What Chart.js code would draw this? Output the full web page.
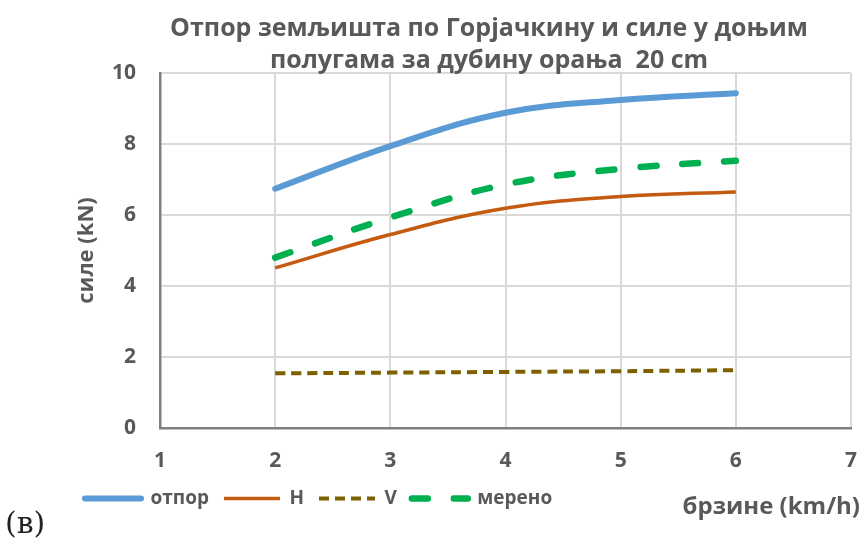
<!DOCTYPE html>
<html>
<head>
<meta charset="utf-8">
<script src="https://cdn.jsdelivr.net/npm/chart.js@4.4.1/dist/chart.umd.min.js"></script>
<style>
  html, body { margin: 0; padding: 0; background: #fff; }
</style>
</head>
<body>
<canvas id="lineChart" width="862" height="546"></canvas>
<script>
// брзине (km/h)
const speeds = [2, 3, 4, 5, 6];
// силе (kN)
const otpor = [6.74, 7.94, 8.88, 9.24, 9.43];
const forceH = [4.51, 5.45, 6.19, 6.52, 6.65];
const forceV = [1.54, 1.56, 1.58, 1.60, 1.63];
const mereno = [4.80, 5.93, 6.86, 7.30, 7.53];

const xTicks = [1, 2, 3, 4, 5, 6, 7];
const yTicks = [0, 2, 4, 6, 8, 10];

const titleLines = ['Отпор земљишта по Горјачкину и силе у доњим', 'полугама за дубину орања  20 cm'];
const xTitle = 'брзине (km/h)';
const yTitle = 'силе (kN)';
const panelLabel = '(в)';

const grayText = '#595959';
const fontName = '"Open Sans", "Noto Sans", sans-serif';

const toPoints = ys => speeds.map((x, i) => ({ x: x, y: ys[i] }));

// title, x-axis label next to the legend and the panel letter
const extraText = {
    id: 'extraText',
    afterDraw(chart) {
        const ctx = chart.ctx;
        ctx.save();
        ctx.fillStyle = grayText;
        ctx.textAlign = 'center';
        ctx.textBaseline = 'alphabetic';
        ctx.font = 'bold 25px ' + fontName;
        ctx.fillText(titleLines[0], 489, 36);
        ctx.fillText(titleLines[1], 489, 68);

        ctx.textAlign = 'right';
        ctx.font = 'bold 24px ' + fontName;
        ctx.fillText(xTitle, 860, 514);

        ctx.textAlign = 'left';
        ctx.textBaseline = 'middle';
        ctx.fillStyle = '#222';
        ctx.font = '30px "DejaVu Serif", serif';
        ctx.fillText(panelLabel, 5, 525);
        ctx.restore();
    }
};

// legend samples should keep each series' own dash and width
const legendLabels = chart => {
    const items = Chart.defaults.plugins.legend.labels.generateLabels(chart);
    items.forEach((item, i) => {
        const ds = chart.data.datasets[i];
        item.lineDash = ds.borderDash || [];
        item.lineWidth = ds.borderWidth;
        item.lineCap = ds.borderCapStyle || 'butt';
    });
    return items;
};

const ctxLine = document.getElementById('lineChart').getContext('2d');
const lineChart = new Chart(ctxLine, {
    type: 'line',
    data: {
        datasets: [{
            label: 'отпор',
            data: toPoints(otpor),
            borderColor: '#5b9bd5',
            backgroundColor: '#5b9bd5',
            borderWidth: 6,
            borderCapStyle: 'round'
        }, {
            label: 'H',
            data: toPoints(forceH),
            borderColor: '#c55a11',
            backgroundColor: '#c55a11',
            borderWidth: 3.5
        }, {
            label: 'V',
            data: toPoints(forceV),
            borderColor: '#7f6000',
            backgroundColor: '#7f6000',
            borderWidth: 4,
            borderDash: [10, 6]
        }, {
            label: 'мерено',
            data: toPoints(mereno),
            borderColor: '#00b050',
            backgroundColor: '#00b050',
            borderWidth: 6.5,
            borderDash: [16, 26],
            borderCapStyle: 'round'
        }]
    },
    options: {
        responsive: false,
        animation: false,
        layout: {
            padding: { left: 70, right: 11, top: 73, bottom: 28 }
        },
        elements: {
            point: { radius: 0 },
            line: { tension: 0.4 }
        },
        scales: {
            x: {
                type: 'linear',
                min: 1,
                max: 7,
                afterBuildTicks: axis => { axis.ticks = xTicks.map(v => ({ value: v })); },
                afterFit: axis => {
                    axis.height = 46;
                    axis.paddingLeft = 0;
                    axis.paddingRight = 0;
                },
                ticks: {
                    padding: 20,
                    color: grayText,
                    font: { family: fontName, size: 21, weight: 'bold' }
                },
                grid: { color: '#d9d9d9', lineWidth: 2, drawTicks: false },
                border: { color: '#7f7f7f', width: 2.5 }
            },
            y: {
                min: 0,
                max: 10,
                afterBuildTicks: axis => { axis.ticks = yTicks.map(v => ({ value: v })); },
                afterFit: axis => { axis.width = 90; },
                ticks: {
                    padding: 24,
                    color: grayText,
                    font: { family: fontName, size: 21, weight: 'bold' }
                },
                grid: { color: '#d9d9d9', lineWidth: 2, drawTicks: false },
                border: { color: '#7f7f7f', width: 2.5 },
                title: {
                    display: true,
                    text: yTitle,
                    color: grayText,
                    font: { family: fontName, size: 22, weight: 'bold' }
                }
            }
        },
        plugins: {
            legend: {
                position: 'bottom',
                align: 'start',
                labels: {
                    usePointStyle: true,
                    pointStyle: 'line',
                    pointStyleWidth: 56,
                    padding: 15,
                    color: grayText,
                    font: { family: fontName, size: 19, weight: 'bold' },
                    generateLabels: legendLabels
                }
            },
            tooltip: { enabled: false }
        }
    },
    plugins: [extraText]
});
</script>
</body>
</html>
